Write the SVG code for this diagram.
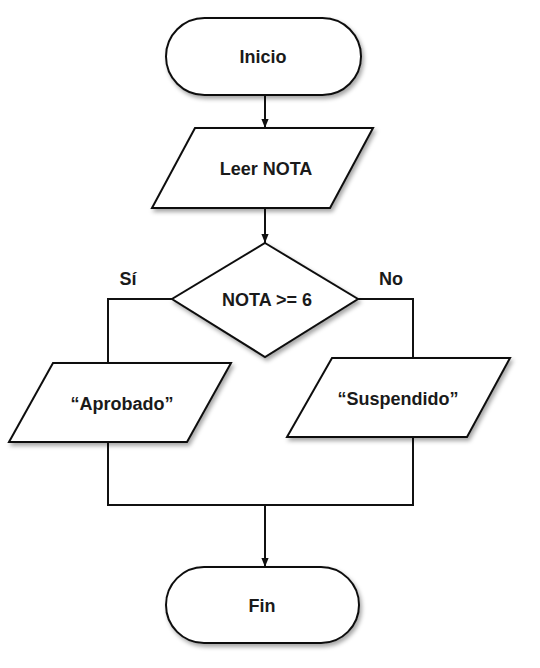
<svg xmlns="http://www.w3.org/2000/svg" width="540" height="668" viewBox="0 0 540 668">
<defs>
<filter id="sh" x="-10%" y="-10%" width="130%" height="140%">
<feDropShadow dx="2" dy="3" stdDeviation="2" flood-color="#000" flood-opacity="0.35"/>
</filter>
<marker id="arr" viewBox="0 0 10 10" refX="10" refY="5" markerWidth="9" markerHeight="10" orient="auto" markerUnits="userSpaceOnUse">
<path d="M0,1 L10,5 L0,9 z" fill="#111"/>
</marker>
</defs>
<style>
.shape{fill:#fff;stroke:#111;stroke-width:2;filter:url(#sh)}
.conn{fill:none;stroke:#111;stroke-width:2}
.arrow{marker-end:url(#arr)}
text{font-family:"Liberation Sans",Arial,sans-serif;font-weight:700;font-size:18px;fill:#1a1a1a;text-anchor:middle}
</style>
<rect width="540" height="668" fill="#fff"/>
<g id="connectors">
<line class="conn arrow" x1="265" y1="95" x2="265" y2="128"/>
<line class="conn arrow" x1="265" y1="208" x2="265" y2="243"/>
<polyline class="conn" points="172,299 108,299 108,363"/>
<polyline class="conn" points="358,299 413,299 413,358"/>
<polyline class="conn" points="108,442 108,505 413,505 413,437"/>
<line class="conn arrow" x1="265" y1="505" x2="265" y2="567"/>
<text x="128" y="285">Sí</text>
<text x="391" y="285">No</text>
</g>
<g id="inicio">
<rect class="shape" x="166" y="18" width="195" height="77" rx="38.5" ry="38.5"/>
<text x="263" y="63">Inicio</text>
</g>
<g id="leer">
<polygon class="shape" points="195,128 373,128 330,208 152,208"/>
<text x="266" y="175">Leer NOTA</text>
</g>
<g id="decision">
<polygon class="shape" points="265,243 358,299 265,357 172,299"/>
<text x="267" y="306">NOTA &gt;= 6</text>
</g>
<g id="aprobado">
<polygon class="shape" points="53,363 231,363 187,442 9,442"/>
<text x="122" y="410">“Aprobado”</text>
</g>
<g id="suspendido">
<polygon class="shape" points="332,358 510,358 467,437 287,437"/>
<text x="398" y="405">“Suspendido”</text>
</g>
<g id="fin">
<rect class="shape" x="166" y="567" width="193" height="76" rx="38" ry="38"/>
<text x="262" y="612">Fin</text>
</g>
</svg>
